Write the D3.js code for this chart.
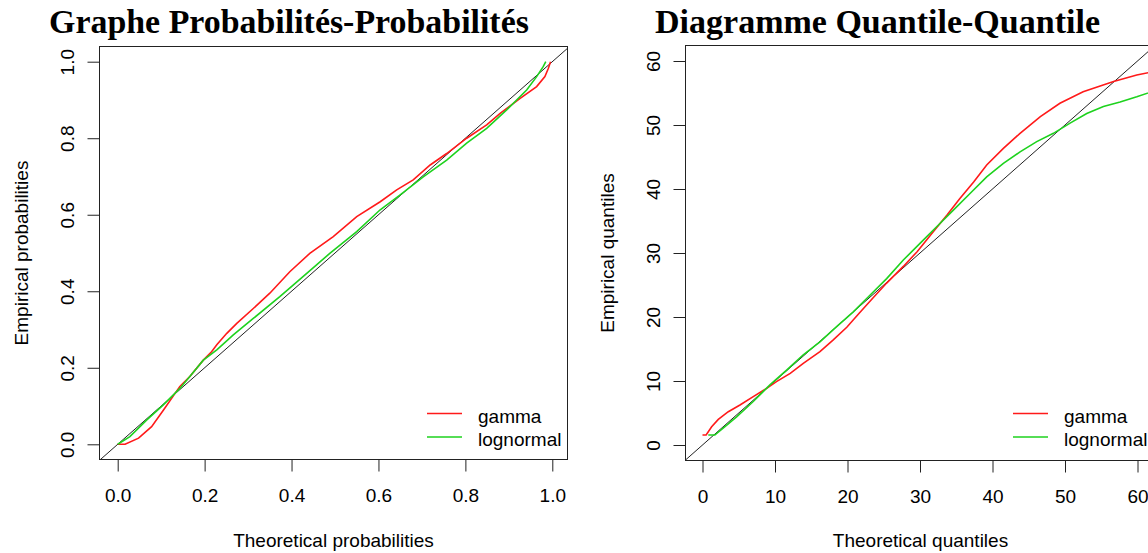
<!DOCTYPE html>
<html><head><meta charset="utf-8">
<script src="https://cdn.jsdelivr.net/npm/d3@7"></script>
<style>body{margin:0;background:#fff}svg{display:block}text{font-family:"Liberation Sans",Arial,sans-serif;fill:#000}</style>
</head><body><svg id="c" width="1148" height="553"></svg>
<script>
// ---- data ----
const titles = ["Graphe Probabilités-Probabilités", "Diagramme Quantile-Quantile"];
const xTitles = ["Theoretical probabilities", "Theoretical quantiles"];
const yTitles = ["Empirical probabilities", "Empirical quantiles"];
const seriesNames = ["gamma", "lognormal"];
const seriesColors = ["#ff1a1a", "#1ed21e"];
const ppTicks = [0, 0.2, 0.4, 0.6, 0.8, 1.0];
const qqTicks = [0, 10, 20, 30, 40, 50, 60];

const ppGammaX = [0, 0.017, 0.048, 0.078, 0.105, 0.132, 0.143, 0.166, 0.197, 0.216, 0.228, 0.251, 0.274, 0.312, 0.350, 0.396, 0.442, 0.496, 0.550, 0.604, 0.642, 0.680, 0.719, 0.757, 0.803, 0.849, 0.880, 0.926, 0.964, 0.983, 0.991, 0.996];
const ppGammaY = [0, 0, 0.016, 0.046, 0.089, 0.133, 0.151, 0.177, 0.220, 0.242, 0.260, 0.290, 0.316, 0.355, 0.395, 0.451, 0.499, 0.543, 0.595, 0.634, 0.665, 0.691, 0.730, 0.760, 0.800, 0.835, 0.865, 0.904, 0.935, 0.961, 0.983, 1.0];
const ppLognX = [0, 0.028, 0.067, 0.105, 0.143, 0.166, 0.197, 0.228, 0.266, 0.312, 0.373, 0.435, 0.488, 0.550, 0.604, 0.650, 0.703, 0.757, 0.803, 0.849, 0.895, 0.941, 0.964, 0.979, 0.985];
const ppLognY = [0, 0.020, 0.064, 0.103, 0.146, 0.177, 0.220, 0.247, 0.286, 0.329, 0.386, 0.447, 0.499, 0.556, 0.613, 0.652, 0.699, 0.743, 0.787, 0.826, 0.874, 0.926, 0.961, 0.987, 1.0];

const qqGammaX = [0, 0.5, 1.26, 2.18, 3.56, 5.17, 7.0, 8.85, 10.2, 12.1, 13.9, 16.2, 18.0, 19.9, 21.7, 23.6, 25.4, 27.7, 29.6, 31.8, 33.7, 35.5, 37.4, 39.2, 41.5, 43.8, 46.6, 49.3, 52.5, 56.7, 59.9, 62.5];
const qqGammaY = [1.56, 1.56, 2.86, 4.0, 5.2, 6.25, 7.55, 8.85, 9.9, 11.2, 12.76, 14.6, 16.4, 18.4, 20.7, 23.1, 25.3, 27.9, 30.2, 33.3, 35.9, 38.5, 41.1, 43.75, 46.35, 48.7, 51.3, 53.4, 55.2, 56.8, 57.8, 58.4];
const qqLognX = [0.8, 1.7, 3.1, 4.7, 7.0, 9.3, 11.6, 13.9, 16.2, 18.5, 20.8, 23.1, 25.4, 27.7, 30.0, 32.3, 34.6, 36.9, 39.2, 41.5, 43.8, 46.1, 48.4, 50.7, 53.0, 55.3, 57.6, 59.9, 62.5];
const qqLognY = [1.56, 1.56, 2.86, 4.4, 6.8, 9.4, 11.7, 14.1, 16.1, 18.5, 20.8, 23.4, 26.0, 28.9, 31.5, 34.1, 36.7, 39.3, 41.9, 44.0, 45.8, 47.4, 48.7, 50.3, 51.8, 52.9, 53.6, 54.4, 55.4];

// ---- layout ----
const svg = d3.select("#c");
const panels = [
  { box: [99.5, 46.5, 567.5, 459.5], x: d3.scaleLinear().domain([0, 1]).range([117.7, 552.3]),
    y: d3.scaleLinear().domain([0, 1]).range([444.3, 61.7]), ticks: ppTicks, fmt: d3.format(".1f"),
    series: [[ppGammaX, ppGammaY], [ppLognX, ppLognY]],
    title: titles[0], titleX: 289, titleW: 480, xt: xTitles[0], yt: yTitles[0], legX: 427 },
  { box: [685.5, 45.5, 1155.5, 460.5], x: d3.scaleLinear().domain([0, 60]).range([702.5, 1137.5]),
    y: d3.scaleLinear().domain([0, 60]).range([445, 61]), ticks: qqTicks, fmt: d3.format("d"),
    series: [[qqGammaX, qqGammaY], [qqLognX, qqLognY]],
    title: titles[1], titleX: 877.5, titleW: 445, xt: xTitles[1], yt: yTitles[1], legX: 1013 }
];

panels.forEach((p, i) => {
  const [x0, y0, x1, y1] = p.box;
  const g = svg.append("g");
  const clipId = "clip" + i;
  svg.append("clipPath").attr("id", clipId).append("rect")
    .attr("x", x0).attr("y", y0).attr("width", x1 - x0).attr("height", y1 - y0);

  // title
  const t = g.append("text").text(p.title).attr("x", p.titleX).attr("y", 33)
    .attr("text-anchor", "middle")
    .style("font-family", '"Liberation Serif","DejaVu Serif",serif').style("font-weight", "bold").style("font-size", "30px");
  const w = t.node().getComputedTextLength();
  t.style("font-size", (30 * p.titleW / w).toFixed(2) + "px");

  // diagonal y = x
  const dmin = Math.min(p.x.invert(x0), p.y.invert(y1));
  const dmax = Math.max(p.x.invert(x1), p.y.invert(y0));
  g.append("line").attr("clip-path", `url(#${clipId})`)
    .attr("x1", p.x(dmin)).attr("y1", p.y(dmin)).attr("x2", p.x(dmax)).attr("y2", p.y(dmax))
    .attr("stroke", "#222").attr("stroke-width", 1);

  // series
  const line = d3.line().x(d => p.x(d[0])).y(d => p.y(d[1]));
  p.series.forEach((s, k) => {
    const pts = s[0].map((v, j) => [v, s[1][j]]);
    g.append("path").attr("clip-path", `url(#${clipId})`).attr("d", line(pts))
      .attr("fill", "none").attr("stroke", seriesColors[k]).attr("stroke-width", 1.6);
  });

  // box
  g.append("rect").attr("x", x0).attr("y", y0).attr("width", x1 - x0).attr("height", y1 - y0)
    .attr("fill", "none").attr("stroke", "#222").attr("stroke-width", 1);

  // x axis
  const xa = g.append("g").attr("transform", `translate(0,${y1})`)
    .call(d3.axisBottom(p.x).tickValues(p.ticks).tickFormat(p.fmt).tickSize(12).tickPadding(0));
  xa.select(".domain").remove();
  xa.selectAll(".tick line").attr("stroke", "#222");
  xa.selectAll(".tick text").attr("y", 0).attr("dy", 0).attr("transform", "translate(0,42)")
    .style("font-size", "19px").style("font-family", '"Liberation Sans",Arial,sans-serif').attr("fill", "#000");

  // y axis
  const ya = g.append("g").attr("transform", `translate(${x0},0)`)
    .call(d3.axisLeft(p.y).tickValues(p.ticks).tickFormat(p.fmt).tickSize(12).tickPadding(0));
  ya.select(".domain").remove();
  ya.selectAll(".tick line").attr("stroke", "#222");
  ya.selectAll(".tick text").attr("x", 0).attr("dy", 0).attr("text-anchor", "middle")
    .attr("transform", "translate(-26,0) rotate(-90)")
    .style("font-size", "19px").style("font-family", '"Liberation Sans",Arial,sans-serif').attr("fill", "#000");

  // axis titles
  g.append("text").text(p.xt).attr("x", (x0 + x1) / 2).attr("y", 547)
    .attr("text-anchor", "middle").style("font-size", "19px");
  g.append("text").text(p.yt).attr("transform", `translate(${x0 - 72},${(y0 + y1) / 2}) rotate(-90)`)
    .attr("text-anchor", "middle").style("font-size", "19px");

  // legend
  seriesNames.forEach((n, k) => {
    const ly = 413.5 + k * 23.5;
    g.append("line").attr("x1", p.legX).attr("x2", p.legX + 35).attr("y1", ly).attr("y2", ly)
      .attr("stroke", seriesColors[k]).attr("stroke-width", 1.6);
    g.append("text").text(n).attr("x", p.legX + 51).attr("y", ly + 9).style("font-size", "19px");
  });
});
</script></body></html>
